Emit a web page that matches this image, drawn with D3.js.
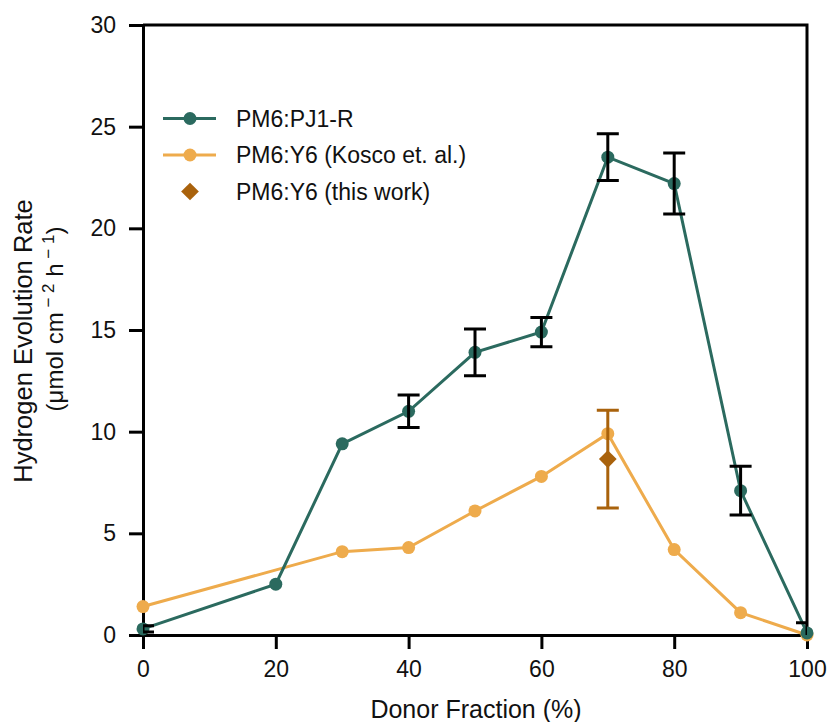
<!DOCTYPE html>
<html>
<head>
  <meta charset="utf-8">
  <script src="https://d3js.org/d3.v7.min.js"></script>
  <style>
    body { margin:0; background:#fff; font-family: "Liberation Sans", Arial, sans-serif; }
  </style>
</head>
<body>
  <script>
    // donor fraction (%) and rates
    var pjX = [0, 20, 30, 40, 50, 60, 70, 80, 90, 100];
    var pjY = [0.3, 2.5, 9.4, 11.0, 13.9, 14.9, 23.5, 22.2, 7.1, 0.1];
    var pjErr = [0.15, 0, 0, 0.8, 1.15, 0.72, 1.15, 1.5, 1.2, 0.5];

    var koscoX = [0, 30, 40, 50, 60, 70, 80, 90, 100];
    var koscoY = [1.4, 4.1, 4.3, 6.1, 7.8, 9.9, 4.2, 1.1, 0];

    var thisX = [70];
    var thisY = [8.65];
    var thisErr = [2.4];

    var xTicks = [0, 20, 40, 60, 80, 100];
    var yTicks = [0, 5, 10, 15, 20, 25, 30];

    var teal = "#2b6a5f", orange = "#eeab4c", brown = "#a9620c";

    var w = 829, h = 722;
    var x0 = 143, x1 = 807, y0 = 635, y1 = 25;

    var svg = d3.select("body").append("svg")
      .attr("width", w)
      .attr("height", h);

    var x = d3.scaleLinear().domain([0, 100]).range([x0, x1]);
    var y = d3.scaleLinear().domain([0, 30]).range([y0, y1]);

    svg.append("clipPath").attr("id", "plot")
      .append("rect").attr("x", x0).attr("y", y1).attr("width", x1 - x0).attr("height", y0 - y1);

    // frame (top + right)
    svg.append("path")
      .attr("d", "M" + x0 + "," + y1 + "H" + x1 + "V" + y0)
      .attr("fill", "none").attr("stroke", "#000").attr("stroke-width", 3);

    var xAxis = svg.append("g")
      .attr("transform", "translate(0," + y0 + ")")
      .call(d3.axisBottom(x).tickValues(xTicks).tickSize(14).tickPadding(12).tickSizeOuter(0));
    var yAxis = svg.append("g")
      .attr("transform", "translate(" + x0 + ",0)")
      .call(d3.axisLeft(y).tickValues(yTicks).tickSize(14).tickPadding(13).tickSizeOuter(0));

    [xAxis, yAxis].forEach(function(a){
      a.attr("font-size", 23).attr("font-family", "Liberation Sans, Arial, sans-serif");
      a.select(".domain").attr("stroke-width", 3);
      a.selectAll(".tick line").attr("stroke-width", 3);
      a.selectAll(".tick text").attr("fill", "#111");
    });

    var line = d3.line().x(function(d){ return x(d[0]); }).y(function(d){ return y(d[1]); });

    function errPath(cx, hi, lo) {
      return "M" + (cx - 11) + "," + hi + "h22M" + cx + "," + hi + "V" + lo + "M" + (cx - 11) + "," + lo + "h22";
    }

    // PM6:Y6 Kosco line
    var kData = koscoX.map(function(v, i){ return [v, koscoY[i]]; });
    svg.append("path").datum(kData)
      .attr("d", line).attr("fill", "none")
      .attr("stroke", orange).attr("stroke-width", 3);
    svg.selectAll(".kdot").data(kData).enter().append("circle")
      .attr("cx", function(d){ return x(d[0]); })
      .attr("cy", function(d){ return y(d[1]); })
      .attr("r", 6.5).attr("fill", orange);

    // this work
    thisX.forEach(function(v, i){
      svg.append("path")
        .attr("d", errPath(x(v), y(thisY[i] + thisErr[i]), y(thisY[i] - thisErr[i])))
        .attr("stroke", brown).attr("stroke-width", 3).attr("fill", "none");
    });
    svg.selectAll(".tdot").data(thisX).enter().append("path")
      .attr("transform", function(d, i){ return "translate(" + x(d) + "," + y(thisY[i]) + ")"; })
      .attr("d", d3.symbol().type(d3.symbolDiamond2).size(200))
      .attr("fill", brown);

    // PM6:PJ1-R
    var pData = pjX.map(function(v, i){ return [v, pjY[i]]; });
    svg.append("path").datum(pData)
      .attr("d", line).attr("fill", "none")
      .attr("stroke", teal).attr("stroke-width", 3);
    svg.selectAll(".pdot").data(pData).enter().append("circle")
      .attr("cx", function(d){ return x(d[0]); })
      .attr("cy", function(d){ return y(d[1]); })
      .attr("r", 6.5).attr("fill", teal);
    pjX.forEach(function(v, i){
      if (!pjErr[i]) return;
      svg.append("path")
        .attr("d", errPath(x(v), y(pjY[i] + pjErr[i]), y(pjY[i] - pjErr[i])))
        .attr("clip-path", "url(#plot)")
        .attr("stroke", "#000").attr("stroke-width", 3).attr("fill", "none");
    });

    // legend
    var legend = [
      {label: "PM6:PJ1-R", color: teal, line: true},
      {label: "PM6:Y6 (Kosco et. al.)", color: orange, line: true},
      {label: "PM6:Y6 (this work)", color: brown, line: false}
    ];
    var lg = svg.selectAll(".leg").data(legend).enter().append("g")
      .attr("transform", function(d, i){ return "translate(163," + (118.5 + i * 36.5) + ")"; });
    lg.filter(function(d){ return d.line; }).append("line")
      .attr("x1", 0).attr("x2", 53).attr("stroke", function(d){ return d.color; }).attr("stroke-width", 3);
    lg.filter(function(d){ return d.line; }).append("circle")
      .attr("cx", 27).attr("r", 6.5).attr("fill", function(d){ return d.color; });
    lg.filter(function(d){ return !d.line; }).append("path")
      .attr("transform", "translate(27,0)")
      .attr("d", d3.symbol().type(d3.symbolDiamond2).size(200))
      .attr("fill", function(d){ return d.color; });
    lg.append("text")
      .attr("x", 73).attr("y", 8)
      .attr("font-size", 23).attr("fill", "#111")
      .text(function(d){ return d.label; });

    // axis titles
    svg.append("text")
      .attr("x", 476).attr("y", 718)
      .attr("text-anchor", "middle").attr("font-size", 25).attr("fill", "#111")
      .text("Donor Fraction (%)");

    svg.append("text")
      .attr("transform", "translate(32,341) rotate(-90)")
      .attr("text-anchor", "middle").attr("font-size", 25.5).attr("fill", "#111")
      .text("Hydrogen Evolution Rate");
    var l2 = svg.append("text")
      .attr("transform", "translate(63,319) rotate(-90)")
      .attr("text-anchor", "middle").attr("font-size", 24).attr("fill", "#111");
    l2.append("tspan").text("(μmol cm");
    l2.append("tspan").attr("dy", -9).attr("font-size", 17).text(" \u2212 2");
    l2.append("tspan").attr("dy", 9).text(" h");
    l2.append("tspan").attr("dy", -9).attr("font-size", 17).text(" \u2212 1");
    l2.append("tspan").attr("dy", 9).text(")");
  </script>
</body>
</html>
